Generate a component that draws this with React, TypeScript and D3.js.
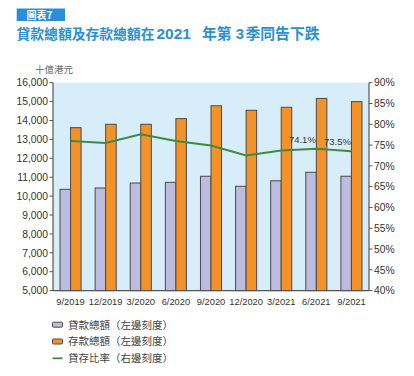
import React from "react";
import * as d3 from "d3";

const categories = ["9/2019", "12/2019", "3/2020", "6/2020", "9/2020", "12/2020", "3/2021", "6/2021", "9/2021"];
const loans = [10360, 10430, 10690, 10730, 11050, 10520, 10810, 11260, 11050];
const deposits = [13620, 13800, 13800, 14100, 14780, 14540, 14700, 15170, 15000];
const ratio = [76.0, 75.5, 77.6, 76.0, 74.9, 72.5, 73.7, 74.1, 73.5];
const leftTicks = [5000, 6000, 7000, 8000, 9000, 10000, 11000, 12000, 13000, 14000, 15000, 16000];
const rightTicks = [40, 45, 50, 55, 60, 65, 70, 75, 80, 85, 90];
const labelledPoints = ["6/2021", "9/2021"];
const legendItems = ["貸款總額（左邊刻度）", "存款總額（左邊刻度）", "貸存比率（右邊刻度）"];

const FONT = "'Liberation Sans', Arial, 'Noto Sans CJK TC', sans-serif";
const CJK = "'Noto Sans CJK TC', 'Liberation Sans', sans-serif";

export default function App() {
  const W = 414, H = 376;
  const L = 53, R = 369, T = 82.7, B = 290.6;
  const x0 = d3.scaleBand<string>().domain(categories).range([L, R]).paddingInner(0.4).paddingOuter(0.2);
  const x1 = d3.scaleBand<string>().domain(["loans", "deposits"]).range([0, x0.bandwidth()]);
  const yL = d3.scaleLinear().domain([5000, 16000]).range([B, T]);
  const yR = d3.scaleLinear().domain([40, 90]).range([B, T]);
  const cx = (c: string) => (x0(c) as number) + x0.bandwidth() / 2;
  const line = d3.line<number>().x((_, i) => cx(categories[i])).y((d) => yR(d));
  const fmt = d3.format(",");

  const purple = "#bcbbe0";
  const orange = "#f39228";
  const green = "#3d8b42";
  const stroke = "#4a4a4a";
  const titleBlue = "#2b8fd3";

  return (
    <svg width={W} height={H} style={{ position: "absolute", left: 0, top: 0, background: "#fff" }}>
      {/* Header */}
      <rect x={16.7} y={8.5} width={48.3} height={12.5} fill="#2a90d4" />
      <text x={26.5} y={18.8} fill="#fff" fontFamily={CJK} fontWeight="bold" fontSize={10}>圖表7</text>
      <text y={39.3} fill={titleBlue} fontFamily={CJK} fontWeight="bold" fontSize={13.8}>
        <tspan x={16.5}>貸款總額及存款總額在</tspan>
        <tspan x={156.5} fontFamily={FONT} fontSize={15.5}>2021</tspan>
        <tspan x={202} fontSize={14.8}>年第</tspan>
        <tspan x={235.8} fontFamily={FONT} fontSize={15}>3</tspan>
        <tspan x={245.5} fontSize={14.8}>季同告下跌</tspan>
      </text>
      <text x={35} y={72.5} fill="#666" fontFamily={CJK} fontSize={9.5}>十億港元</text>

      {/* Plot background */}
      <rect x={L} y={T} width={R - L} height={B - T} fill="#d7eefa" />

      {/* Bars */}
      {categories.map((c, i) => (
        <g key={c}>
          <rect x={(x0(c) as number) + (x1("loans") as number)} y={yL(loans[i])} width={x1.bandwidth()} height={B - yL(loans[i])} fill={purple} stroke={stroke} strokeWidth={1} />
          <rect x={(x0(c) as number) + (x1("deposits") as number)} y={yL(deposits[i])} width={x1.bandwidth()} height={B - yL(deposits[i])} fill={orange} stroke={stroke} strokeWidth={1} />
        </g>
      ))}

      {/* Ratio line */}
      <path d={line(ratio) as string} fill="none" stroke={green} strokeWidth={2} />
      {categories.map((c, i) =>
        labelledPoints.includes(c) ? (
          <text key={c} x={cx(c) - 0.5} y={yR(ratio[i]) - 6} textAnchor="end" fill="#333" fontFamily={FONT} fontSize={9.5}>
            {ratio[i].toFixed(1)}%
          </text>
        ) : null
      )}

      {/* Left axis */}
      <line x1={L} x2={L} y1={T} y2={B} stroke="#555" strokeWidth={1.2} />
      {leftTicks.map((t) => (
        <g key={t}>
          <line x1={L - 3.5} x2={L} y1={yL(t)} y2={yL(t)} stroke="#555" />
          <text x={48} y={yL(t) + 3.7} textAnchor="end" fill="#333" fontFamily={FONT} fontSize={10.3}>{fmt(t)}</text>
        </g>
      ))}

      {/* Right axis */}
      <line x1={R} x2={R} y1={T} y2={B} stroke="#555" strokeWidth={1.2} />
      {rightTicks.map((t) => (
        <g key={t}>
          <line x1={R} x2={R + 3.5} y1={yR(t)} y2={yR(t)} stroke="#555" />
          <text x={374} y={yR(t) + 3.7} fill="#333" fontFamily={FONT} fontSize={10.3}>{t}%</text>
        </g>
      ))}

      {/* Bottom axis */}
      <line x1={L} x2={R} y1={B} y2={B} stroke="#555" strokeWidth={1.2} />
      {categories.map((c) => (
        <text key={c} x={cx(c)} y={305} textAnchor="middle" fill="#333" fontFamily={FONT} fontSize={9.3}>{c}</text>
      ))}

      {/* Legend */}
      {legendItems.map((lab, i) => {
        const y = 324.7 + i * 16.8;
        return (
          <g key={lab}>
            {i < 2 ? (
              <rect x={52.5} y={y - 2.5} width={10} height={5} rx={1} fill={i === 0 ? purple : orange} stroke={stroke} strokeWidth={1} />
            ) : (
              <line x1={52.5} x2={62.5} y1={y} y2={y} stroke={green} strokeWidth={1.8} />
            )}
            <text x={68} y={y + 3.8} fill="#444" fontFamily={CJK} fontSize={10.5}>{lab}</text>
          </g>
        );
      })}
    </svg>
  );
}
